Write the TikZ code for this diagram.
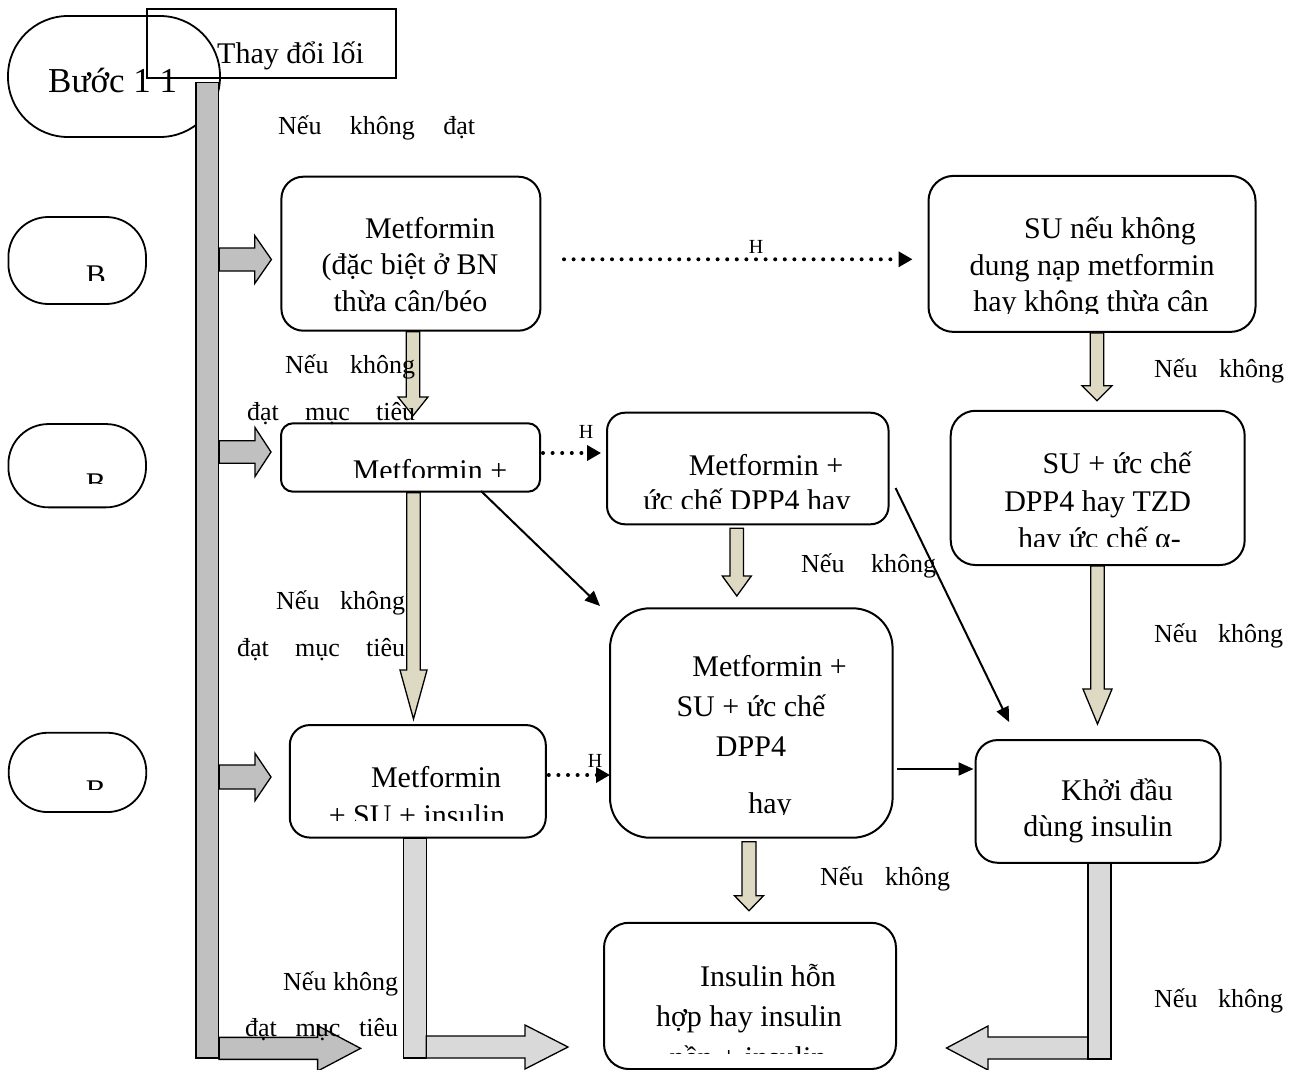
\documentclass[tikz,border=0pt]{standalone}
\usepackage{fontspec}
\setmainfont{Liberation Serif}
\usetikzlibrary{arrows.meta,calc}

\definecolor{bargray}{HTML}{C0C0C0}
\definecolor{lgray}{HTML}{D9D9D9}
\definecolor{arrbeige}{HTML}{DDD9C3}

% vertical block arrow: #1 start, #2 tip, #3 shaft half, #4 head half, #5 head length, #6 fill
\newcommand\vblock[6]{\filldraw[fill=#6,blockline] let \p1=#1, \p2=#2 in
  ({\x2-#3pt},\y1) -- ({\x2-#3pt},{\y2+#5pt}) -- ({\x2-#4pt},{\y2+#5pt}) -- (\x2,\y2)
  -- ({\x2+#4pt},{\y2+#5pt}) -- ({\x2+#3pt},{\y2+#5pt}) -- ({\x2+#3pt},\y1) -- cycle;}
% horizontal block arrow
\newcommand\hblock[6]{\filldraw[fill=#6,blockline] let \p1=#1, \p2=#2 in
  (\x1,{\y2-#3pt}) -- ({\x2-(#5pt)},{\y2-#3pt}) -- ({\x2-(#5pt)},{\y2-#4pt}) -- (\x2,\y2)
  -- ({\x2-(#5pt)},{\y2+#4pt}) -- ({\x2-(#5pt)},{\y2+#3pt}) -- (\x1,{\y2+#3pt}) -- cycle;}

\begin{document}
\begin{tikzpicture}[x=1pt,y=-1pt,
  tbox/.style={draw, line width=2pt, rounded corners=#1, fill=white, inner sep=0pt},
  stad/.style={draw, line width=1.8pt, inner sep=0pt},
  blockline/.style={draw=black, line width=1.3pt},
  txt/.style={inner sep=0pt, anchor=base, font=\fontsize{30}{36}\selectfont},
  lbl/.style={inner sep=0pt, anchor=base west, font=\fontsize{26}{30}\selectfont},
  hl/.style={inner sep=0pt, anchor=base, font=\fontsize{20}{24}\selectfont},
  dotarrow/.style={line width=4pt, dash pattern=on 0pt off 9.6pt, line cap=round, -{Triangle[length=14pt,width=15pt]}},
  sarrow/.style={line width=2pt, -{Triangle[length=15pt,width=13pt]}}]
\useasboundingbox (0,0) rectangle (1301,1070);

% ---- step 1 header
\node[stad, rounded corners=60pt, minimum width=212pt, minimum height=121pt] (s1) at (114,76.5) {};
\node[inner sep=0pt, anchor=base west, font=\fontsize{35}{40}\selectfont] (s1t) at (48,93) {Bước 1 1};
\node[stad, minimum width=249pt, minimum height=69pt] (thay) at (271.2,43.8) {};
\node[inner sep=0pt, anchor=base west, font=\fontsize{30}{36}\selectfont] (thayt) at (217,63.3) {Thay đổi lối};

% ---- left small stadiums
\node[stad, rounded corners=40pt, minimum width=137.6pt, minimum height=87pt] (b1) at (77.2,260.5) {};
\node[stad, rounded corners=40pt, minimum width=137.6pt, minimum height=83.3pt] (b2) at (77.2,465.7) {};
\node[stad, rounded corners=39pt, minimum width=137.6pt, minimum height=79.3pt] (b3) at (77.5,772.4) {};
\begin{scope}\clip (20,240) rectangle (140,280); \node[txt] (b1t) at (96,285) {B}; \end{scope}
\begin{scope}\clip (20,440) rectangle (140,483); \node[txt] (b2t) at (96,493) {B}; \end{scope}
\begin{scope}\clip (20,750) rectangle (140,789); \node[txt] (b3t) at (96,800) {B}; \end{scope}

% ---- vertical bar
\node[draw, fill=bargray, line width=1.3pt, minimum width=22.5pt, minimum height=975.3pt, inner sep=0pt] (bar) at (207.2,570.35) {};

% ---- boxes
\node[tbox=22pt, minimum width=259pt, minimum height=154pt] (m1) at (410.9,253.7) {};
\node[tbox=25pt, minimum width=327pt, minimum height=156pt] (su) at (1092,253.9) {};
\node[tbox=12pt, minimum width=259pt, minimum height=68.4pt] (m2) at (410.5,457.5) {};
\node[tbox=18pt, minimum width=281.5pt, minimum height=111.6pt] (dpp) at (747.8,468.5) {};
\node[tbox=25pt, minimum width=294pt, minimum height=154.3pt] (su2) at (1097.7,487.9) {};
\node[tbox=40pt, minimum width=282.6pt, minimum height=229.4pt] (bb) at (751.3,723) {};
\node[tbox=22pt, minimum width=245pt, minimum height=122.7pt] (kd) at (1098,801.4) {};
\node[tbox=25pt, minimum width=292pt, minimum height=146.3pt] (ins) at (750,995.9) {};
\node[tbox=20pt, minimum width=256pt, minimum height=112.5pt] (m3) at (417.8,781.3) {};

% ---- box texts
\node[txt] (m1a) at (430,238) {Metformin};
\node[txt] (m1b) at (410,274) {(đặc biệt ở BN};
\node[txt] (m1c) at (410.5,311) {thừa cân/béo};

\node[txt] (sua) at (1110,238) {SU nếu không};
\node[txt] (sub) at (1092,275) {dung nạp metformin};
\begin{scope}\clip (930,280) rectangle (1250,313); \node[txt] (suc) at (1091,311.7) {hay không thừa cân}; \end{scope}

\begin{scope}\clip (285,425) rectangle (535,477); \node[txt] (m2a) at (430,480) {Metformin +}; \end{scope}

\node[txt] (dppa) at (766,475) {Metformin +};
\begin{scope}\clip (610,480) rectangle (885,508.5); \node[txt] (dppb) at (747,510) {ức chế DPP4 hay}; \end{scope}

\node[txt] (su2a) at (1117,473) {SU + ức chế};
\node[txt] (su2b) at (1097.6,511.7) {DPP4 hay TZD};
\begin{scope}\clip (955,518) rectangle (1240,546.5); \node[txt] (su2c) at (1099.5,548) {hay ức chế α-}; \end{scope}

\node[txt] (bba) at (769.6,676.7) {Metformin +};
\node[txt] (bbb) at (751,716.7) {SU + ức chế};
\node[txt] (bbc) at (751,756.7) {DPP4};
\begin{scope}\clip (615,765) rectangle (890,814); \node[txt] (bbd) at (770,813) {hay}; \end{scope}

\node[txt] (kda) at (1117,800) {Khởi đầu};
\begin{scope}\clip (980,805) rectangle (1215,848); \node[txt] (kdb) at (1098,836.7) {dùng insulin}; \end{scope}

\node[txt] (insa) at (768,986.7) {Insulin hỗn};
\node[txt] (insb) at (749,1026.7) {hợp hay insulin};
\begin{scope}\clip (610,1035) rectangle (890,1053); \node[txt] (insc) at (748,1067) {nền + insulin}; \end{scope}

\node[txt] (m3a) at (436,787) {Metformin};
\begin{scope}\clip (295,792) rectangle (540,820); \node[txt] (m3b) at (417,825) {+ SU + insulin}; \end{scope}

% ---- side block arrows from the bar
\hblock{(bar.east)}{([xshift=-9pt,yshift=-5.8pt]m1.west)}{11.5}{24}{16.7}{bargray}
\hblock{(bar.east)}{([xshift=-9pt,yshift=5.5pt]m2.west)}{11.3}{24.5}{16}{bargray}
\hblock{(bar.east)}{([xshift=-17.8pt,yshift=4.3pt]m3.west)}{12}{23.7}{16}{bargray}
\hblock{(bar.east)}{([xshift=141.5pt,yshift=10.3pt]bar.south east)}{11}{22.7}{43}{bargray}

% ---- beige down arrows
\vblock{(m1.south)}{([xshift=2.5pt,yshift=6.6pt]m2.north)}{6.75}{15}{18.7}{arrbeige}
\vblock{(m2.south)}{([xshift=-4.3pt,yshift=5pt]m3.north)}{6.75}{13.5}{49}{arrbeige}
\vblock{([yshift=-3pt]dpp.south)}{([xshift=-14.5pt,yshift=11.3pt]bb.north)}{6.75}{14.5}{20}{arrbeige}
\vblock{(su.south)}{([xshift=-0.7pt,yshift=9pt]su2.north)}{6.75}{15}{15}{arrbeige}
\vblock{(su2.south)}{([xshift=-0.5pt,yshift=15pt]kd.north)}{6.75}{14.5}{35}{arrbeige}
\vblock{([yshift=-3pt]bb.south)}{([xshift=-1pt,yshift=11pt]ins.north)}{7}{14.5}{15}{arrbeige}

% ---- light gray elbow arrows
\coordinate (e2top) at ([xshift=-3pt]m3.south);
\coordinate (e2tip) at ([xshift=-35pt,yshift=-51.1pt]ins.west);
\filldraw[fill=lgray,blockline] let \p1=(e2top), \p2=(e2tip) in ({\x1-11.5pt},\y1) rectangle ({\x1+11.5pt},{\y2-11pt});
\hblock{([xshift=11.5pt]e2top)}{(e2tip)}{11}{22}{43}{lgray}

\coordinate (e3top) at ([xshift=1.5pt]kd.south);
\coordinate (e3tip) at ([xshift=49.5pt,yshift=-52.1pt]ins.east);
\hblock{([xshift=-11.5pt]e3top)}{(e3tip)}{11}{22}{-41.5}{lgray}
\filldraw[fill=lgray,blockline] let \p1=(e3top), \p2=(e3tip) in ({\x1-11.5pt},\y1) rectangle ({\x1+11.5pt},{\y2-11pt});

% ---- dotted arrows
\draw[dotarrow] ([xshift=22.6pt,yshift=-5.6pt]m1.east) -- ([xshift=-15pt,yshift=-5.4pt]su.west);
\coordinate (d2s) at ([xshift=2pt,yshift=4.5pt]m2.east);
\coordinate (d2e) at ($(d2s -| dpp.west)+(-5,0)$);
\draw[dotarrow] (d2s) -- (d2e);
\coordinate (d3s) at ([xshift=2pt,yshift=6.3pt]m3.east);
\coordinate (d3e) at ($(d3s -| bb.west)+(1,0)$);
\draw[dotarrow] (d3s) -- (d3e);

% ---- solid arrows
\draw[sarrow] ([xshift=-60pt,yshift=1.7pt]m2.south east) -- ([xshift=-9pt,yshift=1.3pt]bb.north west);
\draw[sarrow] ([xshift=6pt,yshift=-19.5pt]dpp.east) -- ([xshift=34.6pt,yshift=17pt]kd.north west);
\coordinate (s3s) at ([xshift=3.4pt,yshift=-46pt]bb.east);
\coordinate (s3e) at ($(s3s -| kd.west)+(-1,0)$);
\draw[sarrow] (s3s) -- (s3e);

% ---- labels
\node[lbl] (l0) at (278,135) {\makebox[197pt][s]{Nếu không đạt}};
\node[lbl] (l1) at (285,373) {\makebox[130pt][s]{Nếu không}};
\node[lbl] (l2) at (247,420) {\makebox[168pt][s]{đạt mục tiêu}};
\node[lbl] (l5) at (1154,377) {\makebox[130pt][s]{Nếu không}};
\node[lbl] (l6) at (801,572) {\makebox[135pt][s]{Nếu không}};
\node[lbl] (l7) at (276,609) {\makebox[129pt][s]{Nếu không}};
\node[lbl] (l8) at (237,656) {\makebox[168pt][s]{đạt mục tiêu}};
\node[lbl] (l9) at (1154,642) {\makebox[129pt][s]{Nếu không}};
\node[lbl] (l11) at (820,885) {\makebox[130pt][s]{Nếu không}};
\node[lbl] (l12) at (283,990) {Nếu không};
\node[lbl] (l13) at (245,1036) {\makebox[153pt][s]{đạt mục tiêu}};
\node[lbl] (l14) at (1154,1007) {\makebox[129pt][s]{Nếu không}};
\node[hl] (h1) at (756,253) {H};
\node[hl] (h2) at (586,438) {H};
\node[hl] (h3) at (595,767) {H};
\end{tikzpicture}
\end{document}
